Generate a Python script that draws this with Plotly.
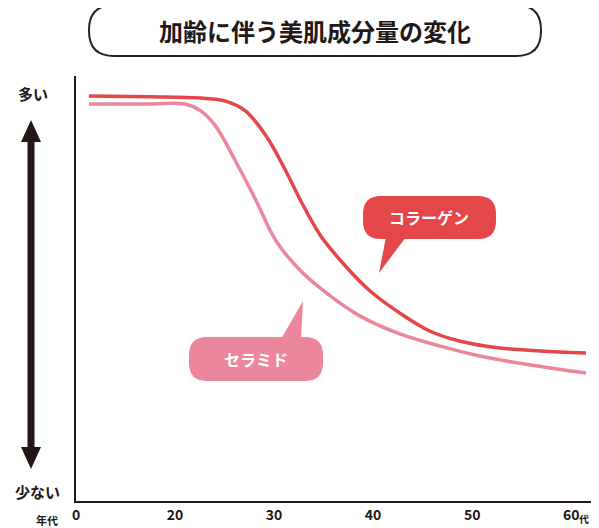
import numpy as np
import plotly.graph_objects as go

# ages (年代) and relative level (0 = 少ない, 100 = 多い)
collagen_age = [2.6, 15, 22.6, 25.1, 27.1, 29.2, 31.2, 32.7, 34.7, 37.2, 39.7, 42.7, 45.7, 48.8, 52.8, 56.9, 61.5]
collagen_lvl = [95.3, 95.1, 94.8, 94.1, 91.8, 85.9, 77.6, 70.6, 62.4, 55.3, 49.4, 44.2, 40.0, 37.6, 36.0, 35.3, 34.8]
ceramide_age = [2.6, 15, 21, 22.6, 24.1, 26.1, 28.2, 30.2, 32.7, 35.7, 38.7, 42.7, 46.7, 50.8, 55.9, 61.5]
ceramide_lvl = [93.4, 93.4, 93.4, 91.8, 88.2, 80.0, 70.6, 61.2, 54.1, 48.2, 43.5, 39.3, 36.5, 34.1, 32.0, 30.1]
tick_ages = [0, 20, 30, 40, 50, 60]
tick_text = ["0", "20", "30", "40", "50", "60"]

RED = "#e4474a"
PINK = "#ec879b"
FONT = "Noto Sans CJK JP"

# the x axis is compressed between 0 and 20
def disp(ages):
    return [a / 2 if a <= 20 else a - 10 for a in ages]

# pixel -> paper helpers (plot area x 75..590, y 75..500 in the photographed page)
def px(x):
    return (x - 75) / 515
def py(y):
    return (500 - y) / 425

def rrect(x0, y0, x1, y1, r):
    return f"M{px(x0+r)},{py(y0)} L{px(x1-r)},{py(y0)} Q{px(x1)},{py(y0)} {px(x1)},{py(y0+r)} " \
           f"L{px(x1)},{py(y1-r)} Q{px(x1)},{py(y1)} {px(x1-r)},{py(y1)} " \
           f"L{px(x0+r)},{py(y1)} Q{px(x0)},{py(y1)} {px(x0)},{py(y1-r)} " \
           f"L{px(x0)},{py(y0+r)} Q{px(x0)},{py(y0)} {px(x0+r)},{py(y0)} Z"

def tri(a, b, c):
    return f"M{px(a[0])},{py(a[1])} L{px(b[0])},{py(b[1])} L{px(c[0])},{py(c[1])} Z"

fig = go.Figure()
fig.add_trace(go.Scatter(x=disp(ceramide_age), y=ceramide_lvl, mode="lines",
                         line=dict(color=PINK, width=3.5, shape="spline"), showlegend=False))
fig.add_trace(go.Scatter(x=disp(collagen_age), y=collagen_lvl, mode="lines",
                         line=dict(color=RED, width=3.5, shape="spline"), showlegend=False))

shapes = [
    # title box
    dict(type="path", path=rrect(88, 4, 540, 55, 25), line=dict(color="#222", width=2), fillcolor="white"),
    # double arrow
    dict(type="line", x0=px(30), x1=px(30), y0=py(138), y1=py(449), line=dict(color="#231815", width=7)),
    dict(type="path", path=tri((30, 119), (20, 141), (40, 141)), fillcolor="#231815", line=dict(width=0)),
    dict(type="path", path=tri((30, 468), (20, 446), (40, 446)), fillcolor="#231815", line=dict(width=0)),
    # callouts
    dict(type="path", path=rrect(362, 195, 495, 238, 18), fillcolor=RED, line=dict(width=0)),
    dict(type="path", path=tri((385, 236), (405, 236), (378, 272)), fillcolor=RED, line=dict(width=0)),
    dict(type="path", path=rrect(188, 336, 322, 380, 18), fillcolor=PINK, line=dict(width=0)),
    dict(type="path", path=tri((280, 338), (300, 338), (302, 300)), fillcolor=PINK, line=dict(width=0)),
]
for s in shapes:
    s.update(xref="paper", yref="paper", layer="above")

def note(text, x, y, size, color="#231815"):
    return dict(text=f"<b>{text}</b>", x=px(x), y=py(y), xref="paper", yref="paper", showarrow=False,
                font=dict(size=size, color=color, family=FONT), xanchor="center", yanchor="middle")

annotations = [
    note("加齢に伴う美肌成分量の変化", 314, 29, 24),
    note("多い", 32, 92, 15),
    note("少ない", 36, 490, 15),
    note("年代", 46, 519, 11),
    note("代", 583, 518, 10),
    note("コラーゲン", 428, 216, 16, "white"),
    note("セラミド", 255, 358, 16, "white"),
]

# page body adds ~7px offset, so margins are shifted to compensate
fig.update_layout(
    width=599, height=528, margin=dict(l=68, r=16, t=68, b=35),
    paper_bgcolor="white", plot_bgcolor="white",
    font=dict(family=FONT, color="#231815"),
    shapes=shapes, annotations=annotations,
    xaxis=dict(range=[0, 52], tickvals=disp(tick_ages), ticktext=[f"<b>{t}</b>" for t in tick_text],
               showgrid=False, zeroline=False, showline=True, linecolor="#231815", linewidth=1.5,
               ticks="", tickfont=dict(size=14, color="#231815")),
    yaxis=dict(range=[0, 100], showticklabels=False, showgrid=False, zeroline=False,
               showline=True, linecolor="#231815", linewidth=1.5, ticks=""),
)
fig.write_html("out.html")
